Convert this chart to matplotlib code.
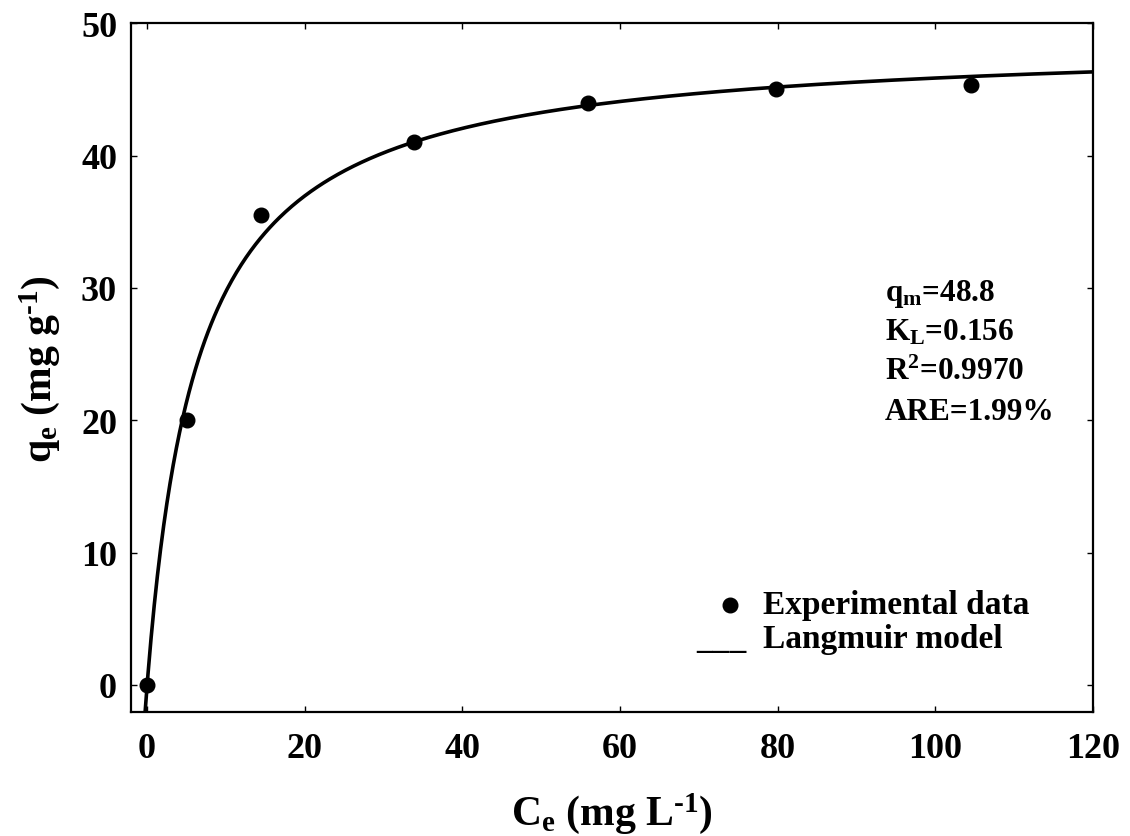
import matplotlib
matplotlib.use("Agg")
import matplotlib.pyplot as plt
import numpy as np

# experimental equilibrium data
ce = [0, 5.0, 14.4, 33.9, 56.0, 79.8, 104.6]
qe = [0, 20.0, 35.5, 41.0, 44.0, 45.0, 45.3]

# Langmuir fit parameters (as printed on the chart)
qm = 48.8
kl = 0.156
fit_text = ["q$_\\mathregular{m}$=48.8", "K$_\\mathregular{L}$=0.156",
            "R$^\\mathregular{2}$=0.9970", "ARE=1.99%"]

xticks = [0, 20, 40, 60, 80, 100, 120]
yticks = [0, 10, 20, 30, 40, 50]

plt.rcParams['font.family'] = ['Liberation Serif', 'DejaVu Serif']
plt.rcParams['font.weight'] = 'bold'
plt.rcParams['mathtext.fontset'] = 'custom'
plt.rcParams['mathtext.rm'] = 'Liberation Serif:bold'
plt.rcParams['mathtext.bf'] = 'Liberation Serif:bold'
plt.rcParams['mathtext.default'] = 'regular'

fig = plt.figure(figsize=(11.3, 8.37), dpi=100)
ax = fig.add_axes([0.1159, 0.148, 0.8511, 0.823])

c_model = np.linspace(-0.3, 120, 600)
q_model = qm * kl * c_model / (1 + kl * c_model)
ax.plot(c_model, q_model, color='black', lw=2.6)
ax.plot(ce, qe, 'o', color='black', ms=10.5)

ax.set_xlim(-2.05, 120)
ax.set_ylim(-2.05, 50)
ax.set_xticks(xticks)
ax.set_yticks(yticks)
ax.tick_params(direction='in', length=4, width=1, top=True, right=True,
               labelsize=26)
ax.tick_params(axis='x', pad=14)
ax.tick_params(axis='y', pad=10)
for s in ax.spines.values():
    s.set_linewidth(1.6)

ax.set_xlabel("C$_\\mathregular{e}$ (mg L$^\\text{-1}$)", fontsize=30,
              fontweight='bold', labelpad=18)
ax.set_ylabel("q$_\\mathregular{e}$ (mg g$^\\text{-1}$)", fontsize=30,
              fontweight='bold', labelpad=14)

# fitting results
for i, t in enumerate(fit_text):
    ax.text(0.784, 0.598 - i * 0.0575, t, transform=ax.transAxes,
            fontsize=22.5, fontweight='bold', va='baseline')

# hand-made legend
ax.plot([0.623], [0.1555], 'o', color='black', ms=10.5,
        transform=ax.transAxes, clip_on=False)
ax.text(0.657, 0.1435, "Experimental data", transform=ax.transAxes,
        fontsize=24, fontweight='bold', va='baseline')
ax.text(0.588, 0.0945, "___", transform=ax.transAxes,
        fontsize=24, fontweight='bold', va='baseline')
ax.text(0.657, 0.0945, "Langmuir model", transform=ax.transAxes,
        fontsize=24, fontweight='bold', va='baseline')

fig.savefig("out.png", dpi=100)
